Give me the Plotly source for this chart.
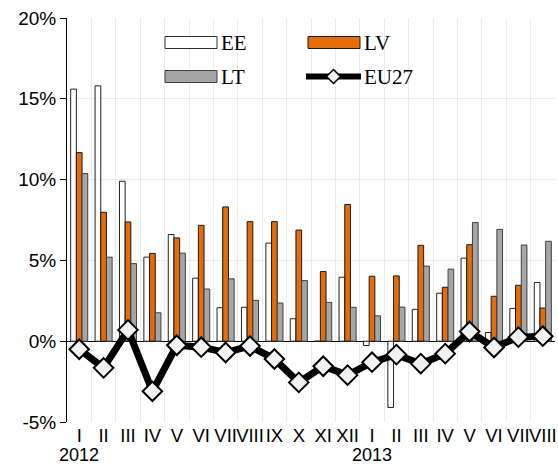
import plotly.graph_objects as go

months = ["I", "II", "III", "IV", "V", "VI", "VII", "VIII", "IX", "X", "XI", "XII",
          "I", "II", "III", "IV", "V", "VI", "VII", "VIII"]
years = {0: "2012", 12: "2013"}

ee = [15.6, 15.8, 9.9, 5.2, 6.6, 3.9, 2.07, 2.1, 6.07, 1.39, 0.0, 3.96,
      -0.27, -4.1, 1.97, 2.97, 5.14, 0.54, 2.03, 3.63]
lv = [11.67, 7.98, 7.38, 5.43, 6.39, 7.17, 8.31, 7.4, 7.4, 6.88, 4.31, 8.46,
      4.02, 4.04, 5.93, 3.34, 5.97, 2.78, 3.46, 2.05]
lt = [10.37, 5.2, 4.8, 1.76, 5.45, 3.23, 3.86, 2.53, 2.36, 3.75, 2.4, 2.1,
      1.57, 2.11, 4.65, 4.46, 7.34, 6.92, 5.95, 6.18]
eu27 = [-0.5, -1.65, 0.7, -3.1, -0.25, -0.37, -0.7, -0.3, -1.1, -2.55, -1.55, -2.1,
        -1.3, -0.83, -1.39, -0.77, 0.6, -0.39, 0.25, 0.31]

x = list(range(len(months)))

fig = go.Figure()
fig.add_trace(go.Bar(x=x, y=ee, name="EE", marker=dict(color="#FFFFFF", line=dict(color="#202020", width=1))))
fig.add_trace(go.Bar(x=x, y=lv, name="LV", marker=dict(color="#E46C0A", line=dict(color="#1A1A1A", width=1))))
fig.add_trace(go.Bar(x=x, y=lt, name="LT", marker=dict(color="#A6A6A6", line=dict(color="#404040", width=1))))
fig.add_trace(go.Scatter(x=x, y=eu27, name="EU27", mode="lines+markers",
                         line=dict(color="#000000", width=7),
                         marker=dict(symbol="diamond", size=15, color="#F2F2F2",
                                     line=dict(color="#000000", width=2))))

# plot area in pixels: x 67..555, y 18..422
L, R, T, B = 67, 555, 18, 422
def px(xv):
    return (xv - L) / (R - L)
def py(yv):
    return (B - yv) / (B - T)

shapes = []
shapes.append(dict(type="rect", xref="paper", yref="paper", x0=px(165), x1=px(217), y0=py(48.5), y1=py(36.5),
                   fillcolor="#FFFFFF", line=dict(color="#303030", width=1)))
shapes.append(dict(type="rect", xref="paper", yref="paper", x0=px(308), x1=px(360), y0=py(48.5), y1=py(36.5),
                   fillcolor="#E46C0A", line=dict(color="#1A1A1A", width=1)))
shapes.append(dict(type="rect", xref="paper", yref="paper", x0=px(165), x1=px(217), y0=py(82.5), y1=py(70.5),
                   fillcolor="#A6A6A6", line=dict(color="#404040", width=1)))
shapes.append(dict(type="line", xref="paper", yref="paper", x0=px(306), x1=px(361), y0=py(76.5), y1=py(76.5),
                   line=dict(color="#000000", width=6)))
shapes.append(dict(type="path", xref="paper", yref="paper",
                   path="M {a},{b} L {c},{d} L {a},{e} L {f},{d} Z".format(
                       a=px(333.5), b=py(69.5), c=px(340.5), d=py(76.5), e=py(83.5), f=px(326.5)),
                   fillcolor="#F2F2F2", line=dict(color="#000000", width=1.5)))

annotations = []
for txt, xx, yy in [("EE", 219, 42.5), ("LV", 362, 42.5), ("LT", 219, 76.5), ("EU27", 362, 76.5)]:
    annotations.append(dict(text=txt, xref="paper", yref="paper", x=px(xx), y=py(yy),
                            xanchor="left", yanchor="middle", showarrow=False,
                            font=dict(family="Liberation Serif, Times New Roman, serif", size=21, color="#000000")))
for i, yr in years.items():
    annotations.append(dict(text=yr, xref="x", yref="paper", x=i, y=py(455),
                            xanchor="center", yanchor="middle", showarrow=False,
                            font=dict(family="Liberation Sans, Arial, sans-serif", size=18, color="#000000")))

fig.update_layout(
    width=558, height=466,
    margin=dict(l=L, r=558 - R, t=T, b=466 - B, autoexpand=False),
    paper_bgcolor="white", plot_bgcolor="white",
    barmode="group", bargap=0.3, bargroupgap=0,
    showlegend=False,
    shapes=shapes, annotations=annotations,
    font=dict(family="Liberation Sans, Arial, sans-serif", size=18.5, color="#000000"),
)
fig.update_xaxes(
    range=[-0.5, 19.5], tickvals=x, ticktext=months, tickangle=0, automargin=False,
    showgrid=False, zeroline=False, showline=False, ticks="", ticklen=0,
    minor=dict(tick0=0.5, dtick=1, showgrid=True, gridcolor="#EBEBEB", gridwidth=1, ticks=""),
    tickfont=dict(size=18.5),
)
fig.update_yaxes(
    range=[-5, 20], tickvals=[-5, 0, 5, 10, 15, 20], ticktext=["-5%", "0%", "5%", "10%", "15%", "20%"],
    automargin=False,
    showgrid=True, gridcolor="#EBEBEB", gridwidth=1,
    zeroline=True, zerolinecolor="#000000", zerolinewidth=1,
    showline=True, linecolor="#000000", linewidth=1,
    ticks="outside", ticklen=6, tickcolor="#000000",
    tickfont=dict(size=19),
)

fig.write_html("out.html", config={"displayModeBar": False},
               post_script="document.body.style.margin='0px';")
